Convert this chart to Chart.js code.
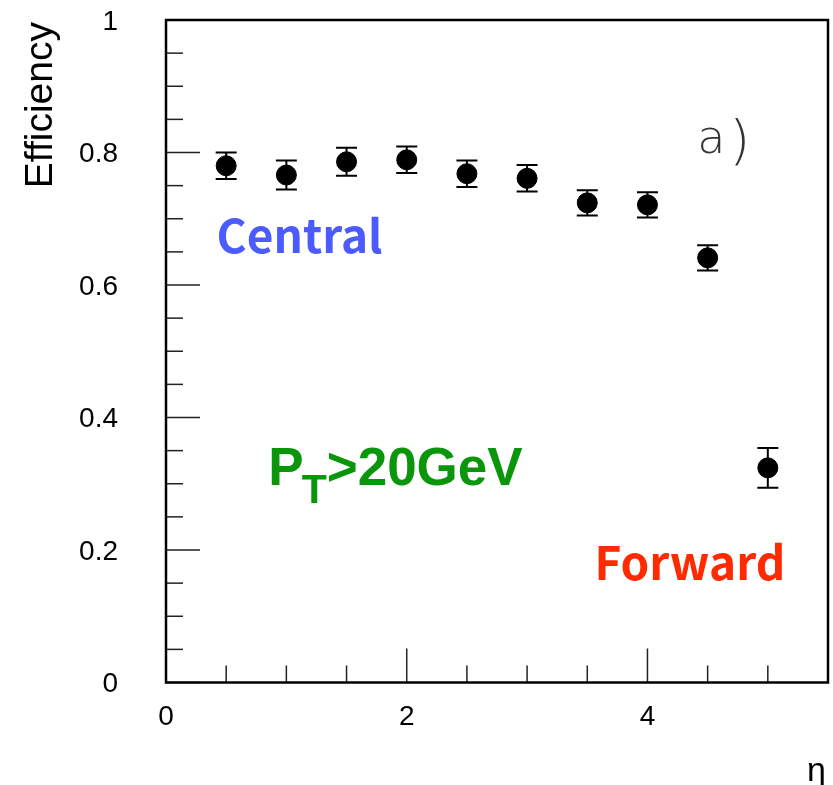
<!DOCTYPE html>
<html>
<head>
<meta charset="utf-8">
<script src="https://cdn.jsdelivr.net/npm/chart.js@4.4.0/dist/chart.umd.min.js"></script>
<style>
  html, body { margin: 0; padding: 0; background: #fff; overflow: hidden; }
  #wrap { width: 833px; height: 785px; position: relative; }
</style>
</head>
<body>
<div id="wrap"><canvas id="effChart"></canvas></div>
<script>
// eta bins, efficiency and its error
const etaValues = [0.5, 1.0, 1.5, 2.0, 2.5, 3.0, 3.5, 4.0, 4.5, 5.0];
const effValues = [0.780, 0.766, 0.786, 0.789, 0.768, 0.761, 0.724, 0.721, 0.641, 0.324];
const effErrors = [0.020, 0.022, 0.021, 0.020, 0.020, 0.020, 0.019, 0.019, 0.019, 0.030];

// tick labels shown on the axes
const xTickLabels = [0, 2, 4];
const yTickLabels = [0, 0.2, 0.4, 0.6, 0.8, 1];

const FONT = "'Liberation Sans', Arial, sans-serif";

function isLabel(v, list) {
    return list.some(t => Math.abs(t - v) < 1e-6);
}

// error bars, frame, ticks, tick labels and text
const rootPlugin = {
    id: 'rootStyle',
    afterDatasetsDraw(chart) {
        const ctx = chart.ctx;
        const xs = chart.scales.x, ys = chart.scales.y;
        ctx.save();
        ctx.strokeStyle = '#000';
        ctx.lineWidth = 2;
        for (let i = 0; i < etaValues.length; i++) {
            const px = xs.getPixelForValue(etaValues[i]);
            const top = ys.getPixelForValue(effValues[i] + effErrors[i]);
            const bot = ys.getPixelForValue(effValues[i] - effErrors[i]);
            ctx.beginPath();
            ctx.moveTo(px, top); ctx.lineTo(px, bot);
            ctx.moveTo(px - 10.5, top); ctx.lineTo(px + 10.5, top);
            ctx.moveTo(px - 10.5, bot); ctx.lineTo(px + 10.5, bot);
            ctx.stroke();
        }
        ctx.restore();
    },
    afterDraw(chart) {
        const ctx = chart.ctx;
        const a = chart.chartArea;
        const xs = chart.scales.x, ys = chart.scales.y;
        ctx.save();

        // ticks inside the frame
        ctx.strokeStyle = '#222';
        ctx.lineWidth = 1.5;
        ys.ticks.forEach(t => {
            const py = ys.getPixelForValue(t.value);
            const len = isLabel(t.value, yTickLabels) ? 34 : 17;
            ctx.beginPath();
            ctx.moveTo(a.left, py); ctx.lineTo(a.left + len, py);
            ctx.stroke();
        });
        xs.ticks.forEach(t => {
            if (t.value > 5.01) return;
            const px = xs.getPixelForValue(t.value);
            const len = isLabel(t.value, xTickLabels) ? 34 : 17;
            ctx.beginPath();
            ctx.moveTo(px, a.bottom); ctx.lineTo(px, a.bottom - len);
            ctx.stroke();
        });

        // frame
        ctx.strokeStyle = '#000';
        ctx.lineWidth = 2.5;
        ctx.strokeRect(a.left, a.top, a.right - a.left, a.bottom - a.top);

        // tick labels
        ctx.fillStyle = '#000';
        ctx.font = '28px ' + FONT;
        ctx.textBaseline = 'middle';
        ctx.textAlign = 'right';
        yTickLabels.forEach(v => {
            ctx.fillText(String(v), 118, ys.getPixelForValue(v) + 2);
        });
        ctx.textAlign = 'center';
        xTickLabels.forEach(v => {
            ctx.fillText(String(v), xs.getPixelForValue(v), a.bottom + 35);
        });

        // axis titles
        ctx.font = '39px ' + FONT;
        ctx.save();
        ctx.translate(52, 22);
        ctx.rotate(-Math.PI / 2);
        ctx.textAlign = 'right';
        ctx.textBaseline = 'alphabetic';
        ctx.fillText('Efficiency', 0, 0);
        ctx.restore();

        ctx.font = '34px ' + FONT;
        ctx.textAlign = 'right';
        ctx.textBaseline = 'alphabetic';
        ctx.fillText('η', 826, 781);

        // annotations
        ctx.textAlign = 'left';
        ctx.fillStyle = '#4b5bff';
        ctx.font = "bold 46px 'Noto Sans CJK JP', " + FONT;
        ctx.fillText('Central', xs.getPixelForValue(0.42), ys.getPixelForValue(0.648));

        ctx.fillStyle = '#ff2a00';
        ctx.fillText('Forward', xs.getPixelForValue(3.56), ys.getPixelForValue(0.155));

        ctx.fillStyle = '#0a960a';
        let px = xs.getPixelForValue(0.85);
        const base = ys.getPixelForValue(0.298);
        ctx.font = 'bold 53px ' + FONT;
        ctx.fillText('P', px, base);
        px += ctx.measureText('P').width;
        ctx.font = 'bold 41px ' + FONT;
        ctx.fillText('T', px - 2, base + 18);
        px += ctx.measureText('T').width - 2;
        ctx.font = 'bold 53px ' + FONT;
        ctx.fillText('>20GeV', px, base);

        ctx.fillStyle = '#333';
        ctx.font = "200 46px 'DejaVu Sans', sans-serif";
        ctx.fillText('a', xs.getPixelForValue(4.43) - 2, ys.getPixelForValue(0.80));
        ctx.font = "200 54px 'DejaVu Sans', sans-serif";
        ctx.fillText(')', xs.getPixelForValue(4.43) + 30, ys.getPixelForValue(0.79));

        ctx.restore();
    }
};

const ctx = document.getElementById('effChart').getContext('2d');
new Chart(ctx, {
    type: 'scatter',
    data: {
        datasets: [{
            label: 'Efficiency',
            data: etaValues.map((x, i) => ({ x: x, y: effValues[i] })),
            backgroundColor: '#000',
            borderColor: '#000',
            pointRadius: 10,
            pointHoverRadius: 10
        }]
    },
    options: {
        responsive: true,
        maintainAspectRatio: false,
        animation: false,
        layout: { autoPadding: false, padding: { left: 0, top: 20, right: 5, bottom: 0 } },
        plugins: {
            legend: { display: false },
            tooltip: { enabled: false }
        },
        scales: {
            x: {
                type: 'linear',
                min: 0,
                max: 5.5,
                grid: { display: false, drawTicks: false },
                border: { display: false },
                afterFit: s => { s.height = 102.5; },
                ticks: { stepSize: 0.5, autoSkip: false, display: false }
            },
            y: {
                type: 'linear',
                min: 0,
                max: 1,
                grid: { display: false, drawTicks: false },
                border: { display: false },
                afterFit: s => { s.width = 166; },
                ticks: { stepSize: 0.05, autoSkip: false, display: false }
            }
        }
    },
    plugins: [rootPlugin]
});
</script>
</body>
</html>
